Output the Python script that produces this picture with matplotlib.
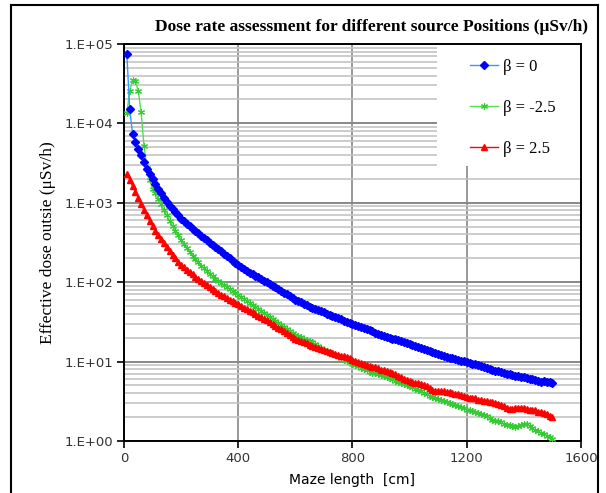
import matplotlib
matplotlib.use("Agg")
import matplotlib.pyplot as plt
from matplotlib.lines import Line2D
from matplotlib.patches import Rectangle
from matplotlib.ticker import LogLocator, NullFormatter

# maze length positions (cm), one reading every 10 cm
maze_cm = list(range(10, 1510, 10))

# beta = 0
dose_b0 = [
    74100, 15100, 7410, 5750, 4790, 3980, 3240, 2690, 2290, 2000,
    1720, 1500, 1320, 1150, 1020, 923, 832, 759, 692, 631,
    586, 545, 507, 473, 442, 412, 385, 360, 337, 316,
    296, 278, 261, 244, 229, 214, 200, 187, 175, 164,
    155, 147, 140, 132, 126, 120, 115, 110, 105, 100,
    95.1, 90.4, 85.9, 81.7, 77.6, 73.8, 70.1, 66.7, 63.4, 60.3,
    57.8, 55.5, 53.2, 51.1, 49.0, 47.4, 45.9, 44.5, 43.1, 41.7,
    40.3, 38.9, 37.6, 36.3, 35.1, 34.0, 32.9, 31.8, 30.8, 29.9,
    29.0, 28.1, 27.3, 26.5, 25.7, 24.8, 24.0, 23.2, 22.4, 21.6,
    21.1, 20.6, 20.0, 19.5, 19.1, 18.5, 18.0, 17.5, 17.1, 16.6,
    16.1, 15.6, 15.2, 14.7, 14.3, 13.9, 13.5, 13.1, 12.7, 12.3,
    12.0, 11.7, 11.5, 11.2, 11.0, 10.7, 10.5, 10.3, 10.1, 9.89,
    9.66, 9.44, 9.23, 9.02, 8.81, 8.57, 8.34, 8.11, 7.89, 7.67,
    7.52, 7.36, 7.21, 7.06, 6.92, 6.79, 6.67, 6.55, 6.43, 6.31,
    6.19, 6.08, 5.97, 5.86, 5.75, 5.60, 5.65, 5.50, 5.52, 5.45,
]

# beta = -2.5
dose_bm25 = [
    13500, 25700, 35100, 33900, 25700, 13800, 5250, 2750, 1910, 1510,
    1320, 1120, 955, 813, 692, 596, 513, 447, 389, 339,
    299, 266, 240, 216, 195, 178, 162, 150, 138, 127,
    119, 111, 104, 97.7, 92.3, 87.1, 82.2, 77.6, 73.3, 69.2,
    65.3, 61.7, 58.2, 55.0, 51.9, 49.0, 46.2, 43.7, 41.2, 38.9,
    36.7, 34.7, 32.7, 30.9, 29.2, 27.5, 26.0, 24.5, 23.2, 21.9,
    21.1, 20.4, 19.5, 18.8, 18.0, 17.4, 16.6, 15.8, 15.0, 14.1,
    13.6, 13.2, 12.7, 12.2, 11.6, 11.1, 10.6, 10.1, 9.77, 9.33,
    9.02, 8.71, 8.41, 8.04, 7.76, 7.50, 7.28, 7.08, 6.92, 6.76,
    6.53, 6.31, 6.17, 5.96, 5.75, 5.56, 5.43, 5.25, 5.07, 4.90,
    4.73, 4.57, 4.37, 4.22, 4.07, 3.89, 3.72, 3.59, 3.47, 3.39,
    3.27, 3.20, 3.09, 3.02, 2.95, 2.85, 2.75, 2.66, 2.57, 2.48,
    2.43, 2.37, 2.32, 2.24, 2.21, 2.14, 2.04, 1.95, 1.84, 1.80,
    1.78, 1.72, 1.64, 1.58, 1.57, 1.53, 1.51, 1.53, 1.58, 1.64,
    1.66, 1.55, 1.45, 1.36, 1.32, 1.26, 1.22, 1.17, 1.11, 1.06,
]

# beta = 2.5
dose_bp25 = [
    2290, 1950, 1620, 1380, 1150, 955, 813, 692, 589, 513,
    447, 398, 347, 309, 275, 245, 221, 200, 182, 166,
    155, 144, 134, 125, 117, 111, 104, 98.2, 92.5, 87.1,
    82.4, 78.0, 73.8, 69.8, 66.1, 63.1, 60.3, 57.5, 55.0, 52.5,
    50.1, 47.9, 45.7, 43.7, 41.7, 39.8, 38.0, 36.3, 34.7, 33.1,
    31.4, 29.8, 28.2, 26.8, 25.4, 24.1, 22.9, 21.7, 20.6, 19.5,
    18.8, 18.2, 17.6, 17.0, 16.4, 15.8, 15.4, 14.9, 14.5, 14.1,
    13.7, 13.3, 12.9, 12.6, 12.2, 11.9, 11.6, 11.3, 11.0, 10.6,
    10.3, 10.0, 9.73, 9.46, 9.16, 8.91, 8.67, 8.43, 8.20, 7.94,
    7.73, 7.52, 7.31, 7.11, 6.89, 6.61, 6.31, 6.10, 5.82, 5.62,
    5.50, 5.37, 5.31, 5.25, 5.13, 4.90, 4.62, 4.42, 4.32, 4.27,
    4.25, 4.22, 4.17, 4.09, 3.98, 3.89, 3.87, 3.80, 3.67, 3.57,
    3.51, 3.47, 3.43, 3.31, 3.24, 3.20, 3.16, 3.13, 3.09, 3.02,
    2.95, 2.88, 2.75, 2.63, 2.55, 2.54, 2.60, 2.63, 2.57, 2.57,
    2.54, 2.48, 2.45, 2.43, 2.34, 2.29, 2.26, 2.19, 2.09, 2.02,
]

x_ticks = [0, 400, 800, 1200, 1600]
y_ticks = [1, 10, 100, 1000, 10000, 100000]
y_tick_labels = ["1.E+00", "1.E+01", "1.E+02", "1.E+03", "1.E+04", "1.E+05"]
series_labels = ["\u03b2 = 0", "\u03b2 = -2.5", "\u03b2 = 2.5"]

serif = ["Liberation Serif", "DejaVu Serif"]

fig = plt.figure(figsize=(6.06, 4.93), dpi=100)
ax = fig.add_axes([0.2046, 0.1055, 0.7541, 0.8053])

ax.plot(maze_cm, dose_b0, color="#3399ff", lw=1, marker="D", ms=3.6,
        mfc="#0000ff", mec="#0000ff", label=series_labels[0], zorder=4)
ax.plot(maze_cm, dose_bm25, color="#55dd55", lw=1, marker=(6, 2, 0), ms=5,
        mfc="#33cc33", mec="#33cc33", mew=0.8, label=series_labels[1], zorder=3)
ax.plot(maze_cm, dose_bp25, color="#ff0000", lw=1, marker="^", ms=4.5,
        mfc="#ff0000", mec="#ff0000", label=series_labels[2], zorder=3)

ax.set_yscale("log")
ax.set_xlim(0, 1600)
ax.set_ylim(1, 100000)
ax.set_xticks(x_ticks)
ax.set_yticks(y_ticks)
ax.set_yticklabels(y_tick_labels)
ax.yaxis.set_minor_locator(LogLocator(base=10, subs=range(2, 10)))
ax.yaxis.set_minor_formatter(NullFormatter())
ax.tick_params(axis="y", which="minor", length=0)
ax.tick_params(axis="both", which="major", direction="out", length=5,
               width=1.2, labelsize=9.5, labelcolor="#333333", pad=3)

ax.grid(True, which="major", axis="y", color="#888888", lw=1.4)
ax.grid(True, which="minor", axis="y", color="#c4c4c4", lw=1.2)
ax.grid(True, which="major", axis="x", color="#999999", lw=1.4)
ax.set_axisbelow(True)
for s in ax.spines.values():
    s.set_linewidth(1.4)
    s.set_color("black")

ax.set_xlabel("Maze length  [cm]", fontsize=10, labelpad=6)
ax.set_ylabel("Effective dose outsie (\u03bcSv/h)", fontsize=12.5,
              family=serif, labelpad=6)
fig.text(0.613, 0.946, "Dose rate assessment for different source Positions (\u03bcSv/h)",
         ha="center", va="center", fontsize=12.5, fontweight="bold", family=serif)

# white legend area hiding the grid, below the spines
ax.add_patch(Rectangle((0.685, 0.693), 0.315, 0.307, transform=ax.transAxes,
                       facecolor="white", edgecolor="none", zorder=1))
leg = ax.legend(loc="upper left", bbox_to_anchor=(0.757, 0.962),
                frameon=False, prop={"family": serif, "size": 12},
                labelspacing=1.5, handlelength=1.7, handletextpad=0.3,
                borderpad=0, borderaxespad=0)

# outer border of the chart area
fig.add_artist(Line2D([11 / 606, 11 / 606], [0, 1 - 5 / 493], color="black", lw=1.5))
fig.add_artist(Line2D([11 / 606, 598 / 606], [1 - 5 / 493, 1 - 5 / 493], color="black", lw=1.5))
fig.add_artist(Line2D([598 / 606, 598 / 606], [0, 1 - 5 / 493], color="black", lw=1.5))

fig.savefig("out.png", dpi=100)
